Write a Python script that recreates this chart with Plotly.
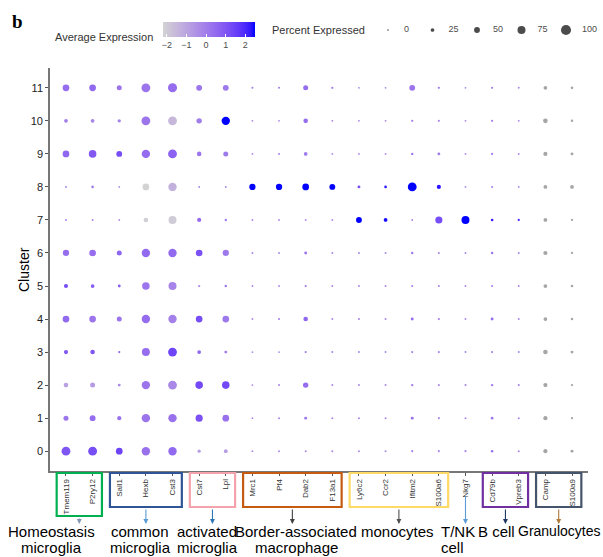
import numpy as np
import plotly.graph_objects as go

# ---- data -------------------------------------------------------------
genes = ["Tmem119", "P2ry12", "Sall1", "Hexb", "Cst3", "Cst7", "Lpl",
         "Mrc1", "Pf4", "Dab2", "F13a1", "Ly6c2", "Ccr2", "Ifitm2", "S100a6",
         "Nkg7", "Cd79b", "Vpreb3", "Camp", "S100a9"]
clusters = [str(i) for i in range(12)]

# percent of cells expressing each gene, one row per cluster (0..11)
pct_expressed = [
    [85, 85, 60, 80, 80, 20, 25, 3, 4, 5, 5, 5, 5, 6, 6, 6, 10, 5, 30, 15],   # 0
    [40, 50, 30, 80, 80, 65, 60, 3, 5, 15, 5, 5, 5, 15, 6, 5, 12, 5, 30, 8],  # 1
    [35, 40, 15, 80, 85, 70, 70, 3, 5, 45, 5, 5, 5, 10, 6, 6, 10, 6, 30, 8],  # 2
    [30, 35, 8, 75, 85, 25, 15, 3, 3, 6, 5, 5, 5, 6, 6, 5, 6, 5, 35, 15],     # 3
    [60, 60, 40, 80, 80, 60, 60, 3, 6, 35, 5, 6, 5, 15, 8, 4, 15, 5, 25, 10], # 4
    [30, 25, 15, 70, 75, 8, 12, 3, 3, 8, 5, 5, 5, 6, 6, 4, 6, 4, 25, 12],     # 5
    [55, 60, 40, 80, 80, 60, 55, 3, 4, 15, 5, 5, 4, 10, 6, 4, 10, 4, 30, 8],  # 6
    [5, 5, 3, 35, 75, 30, 10, 3, 3, 3, 3, 50, 25, 3, 65, 75, 12, 8, 25, 8],   # 7
    [4, 12, 3, 60, 80, 4, 4, 55, 55, 60, 50, 15, 12, 85, 30, 3, 5, 3, 25, 25],# 8
    [60, 70, 50, 80, 85, 35, 40, 3, 5, 25, 3, 3, 3, 10, 15, 3, 6, 4, 30, 15], # 9
    [25, 25, 20, 85, 85, 45, 80, 3, 3, 35, 4, 3, 3, 8, 6, 3, 6, 4, 35, 10],   # 10
    [60, 60, 40, 85, 88, 50, 50, 5, 5, 40, 8, 3, 3, 50, 8, 3, 6, 4, 25, 12],  # 11
]

# scaled average expression; None = not scaled (drawn in grey)
avg_expression = [
    [1.0, 1.2, 1.4, 0.3, 0.5, -0.8, -0.7, -0.3, -0.3, -0.3, -0.3, -0.4, -0.4, 0.0, -0.3, -0.2, 0.3, -0.3, None, None],
    [0.2, 0.4, 0.3, 0.2, 0.3, 1.1, 0.3, -0.3, -0.3, 0.2, -0.3, -0.3, -0.3, 0.3, -0.3, -0.3, 0.2, -0.3, None, None],
    [-0.9, -0.8, -0.3, 0.2, -0.3, 1.3, 1.3, -0.3, -0.2, 0.4, -0.3, -0.3, -0.3, -0.1, -0.3, -0.3, 0.0, -0.3, None, None],
    [1.0, 1.0, 0.5, 0.4, 1.4, 0.6, 0.0, -0.3, -0.3, 0.0, -0.3, -0.3, -0.3, 0.0, -0.3, -0.3, -0.1, -0.3, None, None],
    [0.5, 0.2, 0.2, 0.4, -0.1, 1.2, 0.1, -0.3, -0.2, 0.6, -0.3, -0.3, -0.3, 0.4, -0.2, -0.3, 0.4, -0.3, None, None],
    [1.2, 0.8, 0.8, 0.2, -0.2, -0.4, 0.0, -0.3, -0.3, -0.2, -0.3, -0.3, -0.3, -0.2, -0.3, -0.3, -0.2, -0.3, None, None],
    [0.4, 0.4, 0.6, 0.5, 0.5, 1.1, 0.1, -0.3, -0.3, 0.2, -0.3, -0.3, -0.3, 0.1, -0.3, -0.3, 0.2, -0.3, None, None],
    [-0.3, -0.3, -0.4, -2.1, -2.0, 0.4, 0.0, -0.3, -0.3, -0.3, -0.3, 2.5, 2.4, -0.3, 1.2, 2.5, 2.2, 2.0, None, None],
    [-0.3, 0.0, -0.4, -2.2, -1.3, -0.3, -0.3, 2.5, 2.5, 2.5, 2.5, 1.2, 2.3, 2.5, 2.3, -0.3, 0.0, -0.3, None, None],
    [0.6, 0.9, 1.2, 0.4, 0.7, 0.2, 0.1, -0.3, -0.2, 0.0, -0.3, -0.3, -0.3, 0.1, 0.0, -0.3, 0.1, -0.3, None, None],
    [0.0, -0.2, -0.1, 0.2, -1.5, 0.0, 2.5, -0.3, -0.3, 0.4, -0.3, -0.3, -0.3, -0.1, -0.2, -0.3, 0.0, -0.3, None, None],
    [0.4, 0.5, 0.2, 0.2, 0.4, 0.2, 0.1, 0.0, 0.0, 0.4, 0.0, -0.3, -0.3, 0.2, 0.0, -0.3, 0.0, -0.3, None, None],
]

colorbar_ticks = [-2, -1, 0, 1, 2]
size_legend_values = [0, 25, 50, 75, 100]

# cell-type groups: (label lines, first gene, last gene, box colour, arrow colour)
groups = [
    (["Homeostasis", "microglia"], "Tmem119", "P2ry12", "#00B050", "#8497B0"),
    (["common", "microglia"], "Sall1", "Cst3", "#2F5597", "#5B9BD5"),
    (["activated", "microglia"], "Cst7", "Lpl", "#F4A3AC", "#2E75B6"),
    (["Border-associated", "macrophage"], "Mrc1", "F13a1", "#C55A11", "#404040"),
    (["monocytes"], "Ly6c2", "S100a6", "#FFD966", "#505050"),
    (["T/NK", "cell"], "Nkg7", "Nkg7", None, "#5B9BD5"),
    (["B cell"], "Cd79b", "Vpreb3", "#7030A0", "#203864"),
    (["Granulocytes"], "Camp", "S100a9", "#44546A", "#B07A3A"),
]

# ---- page geometry ------------------------------------------------------
W, H = 603, 557
PLOT_L, PLOT_R, PLOT_T, PLOT_B = 50, 588, 68, 471
FONT = "Arial, Liberation Sans, sans-serif"


def px(x):
    return x / W


def py(y):
    return 1 - y / H


def dot_size(p):
    return 1.6 + 0.085 * p


# ---- colour scale: lightgrey -> blue interpolated in CIE Lab ----------
def _srgb_to_lab(rgb):
    c = np.asarray(rgb, float) / 255
    lin = np.where(c <= 0.04045, c / 12.92, ((c + 0.055) / 1.055) ** 2.4)
    m = np.array([[0.4124564, 0.3575761, 0.1804375],
                  [0.2126729, 0.7151522, 0.0721750],
                  [0.0193339, 0.1191920, 0.9503041]])
    t = (m @ lin) / np.array([0.95047, 1.0, 1.08883])
    d = 6 / 29
    f = np.where(t > d ** 3, np.cbrt(t), t / (3 * d * d) + 4 / 29)
    return np.array([116 * f[1] - 16, 500 * (f[0] - f[1]), 200 * (f[1] - f[2])])


def _lab_to_srgb(lab):
    L, a, b = lab
    fy = (L + 16) / 116
    fx = fy + a / 500
    fz = fy - b / 200
    d = 6 / 29
    f = np.array([fx, fy, fz])
    t = np.where(f > d, f ** 3, 3 * d * d * (f - 4 / 29))
    xyz = t * np.array([0.95047, 1.0, 1.08883])
    minv = np.array([[3.2404542, -1.5371385, -0.4985314],
                     [-0.9692660, 1.8760108, 0.0415560],
                     [0.0556434, -0.2040259, 1.0572252]])
    lin = np.clip(minv @ xyz, 0, 1)
    c = np.where(lin <= 0.0031308, 12.92 * lin, 1.055 * lin ** (1 / 2.4) - 0.055)
    r, g, bb = np.clip(np.round(c * 255), 0, 255).astype(int)
    return f"rgb({r},{g},{bb})"


lab_lo = _srgb_to_lab((211, 211, 211))
lab_hi = _srgb_to_lab((0, 0, 255))
colorscale = [[s, _lab_to_srgb(lab_lo + s * (lab_hi - lab_lo))]
              for s in np.linspace(0, 1, 21)]

scaled = [v for row in avg_expression for v in row if v is not None]
cmin, cmax = min(scaled), max(scaled)

# ---- dots -------------------------------------------------------------
xs, ys, cs, ss = [], [], [], []
gx, gy, gs = [], [], []
for i, cl in enumerate(clusters):
    for j, g in enumerate(genes):
        v = avg_expression[i][j]
        p = pct_expressed[i][j]
        if v is None:
            gx.append(g); gy.append(cl); gs.append(dot_size(p))
        else:
            xs.append(g); ys.append(cl); cs.append(v); ss.append(dot_size(p))

fig = go.Figure()
fig.add_trace(go.Scatter(
    x=xs, y=ys, mode="markers", showlegend=False, hoverinfo="skip",
    marker=dict(size=ss, color=cs, colorscale=colorscale, cmin=cmin, cmax=cmax,
                line=dict(width=0), opacity=1,
                colorbar=dict(orientation="h", lenmode="pixels", len=92,
                              thickness=15, x=px(209), y=py(22),
                              xanchor="center", yanchor="top",
                              xpad=0, ypad=0, outlinewidth=0,
                              tickvals=colorbar_ticks,
                              ticktext=["\u22122", "\u22121", "0", "1", "2"],
                              ticks="inside", ticklen=3, tickcolor="white",
                              tickfont=dict(family=FONT, size=9, color="#4d4d4d"))),
))
fig.add_trace(go.Scatter(
    x=gx, y=gy, mode="markers", showlegend=False, hoverinfo="skip",
    marker=dict(size=gs, color="#7F7F7F", line=dict(width=0)),
))

# size legend drawn on an overlay axis measured in page pixels
leg_x = [388 + 44.5 * k for k in range(len(size_legend_values))]
fig.add_trace(go.Scatter(
    x=leg_x, y=[30] * len(leg_x), xaxis="x2", yaxis="y2", mode="markers",
    showlegend=False, hoverinfo="skip",
    marker=dict(size=[dot_size(v) for v in size_legend_values], color="black",
                line=dict(width=0)),
))
fig.add_trace(go.Scatter(
    x=[x + 16 for x in leg_x], y=[30] * len(leg_x), xaxis="x2", yaxis="y2",
    mode="text", text=[str(v) for v in size_legend_values],
    textposition="middle right", showlegend=False, hoverinfo="skip",
    textfont=dict(family=FONT, size=9, color="#4d4d4d"),
))

# ---- group boxes, arrows and labels -----------------------------------
shapes, annotations = [], []
for lines, g0, g1, box_col, arrow_col in groups:
    i0, i1 = genes.index(g0), genes.index(g1)
    mid = (i0 + i1) / 2
    if box_col is not None:
        bottom = 516 if lines[0] == "Homeostasis" else 507
        shapes.append(dict(type="rect", xref="x", yref="paper",
                           x0=i0 - 0.35, x1=i1 + 0.35, y0=py(473), y1=py(bottom),
                           line=dict(color=box_col, width=2.2), fillcolor="rgba(0,0,0,0)"))
        start = bottom + 1
    else:
        start = 495
    annotations.append(dict(x=mid, y=py(524), xref="x", yref="paper",
                            ax=0, ay=-(524 - start), axref="pixel", ayref="pixel",
                            text="", showarrow=True, arrowhead=2, arrowsize=0.9,
                            arrowwidth=1.1, arrowcolor=arrow_col))

# (x in page pixels, anchor, font size)
label_pos = {
    "Homeostasis": (51, "center", 15),
    "common": (140, "center", 15),
    "activated": (207, "center", 15),
    "Border-associated": (296, "center", 15),
    "monocytes": (397, "center", 15),
    "T/NK": (439, "left", 15),
    "B cell": (496, "center", 15),
    "Granulocytes": (602, "right", 14),
}
for lines, *_ in groups:
    x, anchor, fsize = label_pos[lines[0]]
    for k, line in enumerate(lines):
        annotations.append(dict(x=px(x), y=py(531 + 16 * k), xref="paper", yref="paper",
                                text=line, showarrow=False, xanchor=anchor,
                                yanchor="middle",
                                font=dict(family=FONT, size=fsize, color="black")))

# titles and panel letter
annotations += [
    dict(x=px(14), y=py(270), xref="paper", yref="paper", text="Cluster",
         textangle=-90, showarrow=False, font=dict(family=FONT, size=14, color="black")),
    dict(x=px(10), y=py(22), xref="paper", yref="paper", text="<b>b</b>",
         showarrow=False, xanchor="left", yanchor="middle",
         font=dict(family="Liberation Serif, Times New Roman, serif", size=19, color="black")),
    dict(x=px(155), y=py(37), xref="paper", yref="paper", text="Average Expression",
         showarrow=False, xanchor="right", yanchor="middle",
         font=dict(family=FONT, size=11, color="#333333")),
    dict(x=px(270), y=py(30), xref="paper", yref="paper", text="Percent Expressed",
         showarrow=False, xanchor="left", yanchor="middle",
         font=dict(family=FONT, size=11, color="#333333")),
]

fig.update_layout(
    width=W, height=H, margin=dict(l=0, r=0, t=0, b=0, autoexpand=False),
    paper_bgcolor="white", plot_bgcolor="rgba(0,0,0,0)",
    shapes=shapes, annotations=annotations,
    xaxis=dict(domain=[px(PLOT_L), px(PLOT_R)], type="category",
               categoryorder="array", categoryarray=genes,
               range=[-0.6, len(genes) - 0.4], showgrid=False, zeroline=False,
               showline=True, linecolor="#777777", linewidth=1.6,
               ticks="outside", ticklen=3, tickcolor="#555555",
               tickangle=-90, tickfont=dict(family=FONT, size=8, color="#333333"),
               automargin=False, fixedrange=True),
    yaxis=dict(domain=[py(PLOT_B), py(PLOT_T)], type="category",
               categoryorder="array", categoryarray=clusters,
               range=[-0.6, len(clusters) - 0.4], showgrid=False, zeroline=False,
               showline=True, linecolor="#777777", linewidth=1.6,
               ticks="outside", ticklen=3, tickcolor="#555555",
               tickfont=dict(family=FONT, size=11, color="#222222"),
               automargin=False, fixedrange=True),
    xaxis2=dict(domain=[0, 1], range=[0, W], visible=False, anchor="y2",
                fixedrange=True),
    yaxis2=dict(domain=[0, 1], range=[H, 0], visible=False, anchor="x2",
                fixedrange=True),
)

fig.write_html("out.html")
